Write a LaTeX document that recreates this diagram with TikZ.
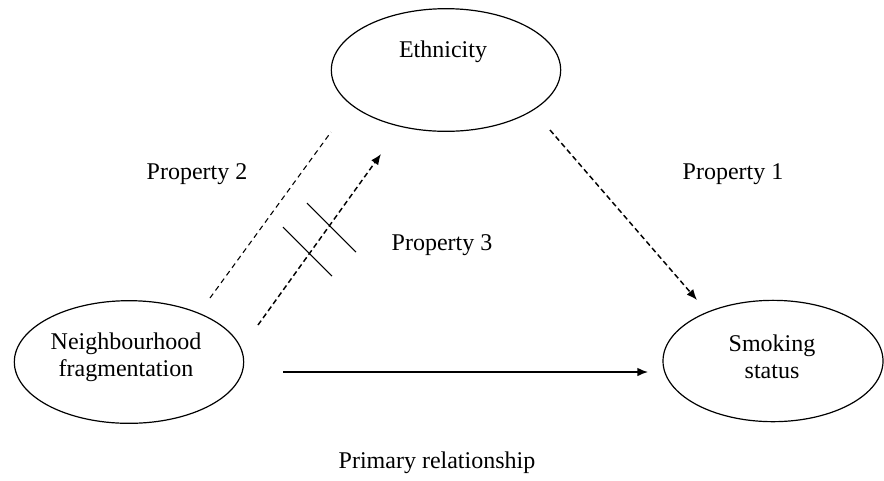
\documentclass[tikz,border=0pt]{standalone}
\usepackage{fontspec}
\setmainfont{Liberation Serif}
\usetikzlibrary{shapes.geometric,arrows.meta}

\begin{document}
\begin{tikzpicture}[
  x=0.75pt, y=-0.75pt,
  every node/.style={font=\fontsize{18}{20.25}\selectfont, align=center},
  oval/.style={draw, ellipse, line width=0.9pt, inner sep=0pt},
  tag/.style={inner sep=0pt},
  thinlink/.style={line width=0.8pt, dash pattern=on 4pt off 3pt},
  dashlink/.style={line width=1.1pt, dash pattern=on 4pt off 2.5pt, -{Latex[length=8pt,width=6.5pt]}},
  mainlink/.style={line width=1.1pt, -{Latex[length=8pt,width=6.5pt]}},
  tick/.style={line width=0.8pt}
]
\useasboundingbox (0,0) rectangle (884,480);

% the three variables
\node[oval, minimum width=172pt, minimum height=92pt] (eth) at (446,70) {};
\node[tag] (ethtext) at (443,52) {Ethnicity};

\node[oval, minimum width=172pt, minimum height=92pt] (nf) at (129,362) {};
\node[tag] (nftext) at (126,357) {Neighbourhood\\fragmentation};

\node[oval, minimum width=165pt, minimum height=91pt] (ss) at (773,361) {};
\node[tag] (sstext) at (772,357) {Smoking\\status};

% labels
\node[tag] (p1) at (733,174) {Property 1};
\node[tag] (p2) at (197,174) {Property 2};
\node[tag] (p3) at (442,245) {Property 3};
\node[tag] (prim) at (437,463) {Primary relationship};

% connector end points
\coordinate (p2from) at (210,298);
\coordinate (p2to)   at (331,132);
\coordinate (p3from) at (258,325);
\coordinate (p3to)   at (381,154);
\coordinate (p1from) at (550,130);
\coordinate (p1to)   at (697,300);
\coordinate (prfrom) at (283,372);
\coordinate (prto)   at (648,372);

% links
\draw[thinlink] (p2from) -- (p2to);
\draw[dashlink] (p3from) -- (p3to);
\draw[dashlink] (p1from) -- (p1to);
\draw[mainlink] (prfrom) -- (prto);

% break marks across the Property 3 link
\coordinate (t1a) at (307,203);
\coordinate (t1b) at (356,252);
\coordinate (t2a) at (283,227);
\coordinate (t2b) at (332,276);
\draw[tick] (t1a) -- (t1b);
\draw[tick] (t2a) -- (t2b);
\end{tikzpicture}
\end{document}
